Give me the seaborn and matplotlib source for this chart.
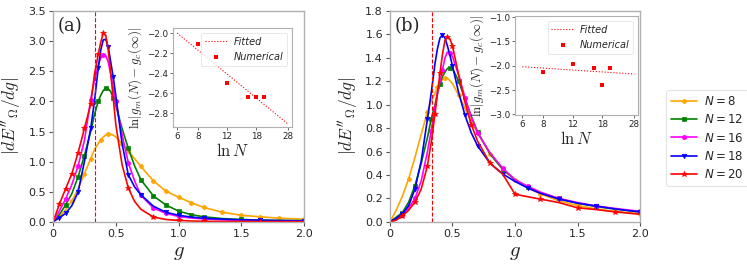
import numpy as np
import pandas as pd
import matplotlib
matplotlib.use("Agg")
import matplotlib.pyplot as plt
from matplotlib.font_manager import FontProperties
import seaborn as sns

sns.set_style("white")
plt.rcParams['font.family'] = ['DejaVu Sans']
plt.rcParams['mathtext.fontset'] = 'cm'

# ---------------- data ----------------
g = [0, 0.05, 0.1, 0.15, 0.2, 0.25, 0.3, 0.33, 0.36, 0.38, 0.4, 0.42, 0.44, 0.46,
     0.48, 0.5, 0.55, 0.6, 0.65, 0.7, 0.8, 0.9, 1.0, 1.1, 1.2, 1.35, 1.5, 1.65, 1.8, 2.0]

sizes = [8, 12, 16, 18, 20]

# panel (a)
a_N8 = [0, 0.08, 0.2, 0.35, 0.55, 0.8, 1.05, 1.2, 1.3, 1.36, 1.41, 1.44, 1.46, 1.455,
        1.44, 1.41, 1.3, 1.17, 1.05, 0.92, 0.68, 0.51, 0.41, 0.32, 0.24, 0.16, 0.11,
        0.085, 0.062, 0.045]
a_N12 = [0, 0.12, 0.28, 0.47, 0.75, 1.1, 1.5, 1.78, 2.0, 2.1, 2.18, 2.22, 2.21, 2.16,
         2.05, 1.93, 1.55, 1.22, 0.93, 0.7, 0.43, 0.28, 0.18, 0.12, 0.085, 0.055, 0.04,
         0.03, 0.025, 0.02]
a_N16 = [0, 0.18, 0.38, 0.62, 0.93, 1.35, 2.03, 2.35, 2.6, 2.72, 2.77, 2.76, 2.65, 2.45,
         2.22, 2.0, 1.45, 0.98, 0.68, 0.44, 0.23, 0.14, 0.09, 0.065, 0.05, 0.035, 0.025,
         0.02, 0.015, 0.012]
a_N18 = [0, 0.07, 0.14, 0.27, 0.5, 1.0, 1.55, 2.0, 2.55, 2.85, 3.02, 3.03, 2.9, 2.65,
         2.4, 2.1, 1.3, 0.78, 0.58, 0.45, 0.26, 0.16, 0.11, 0.08, 0.06, 0.045, 0.035,
         0.028, 0.022, 0.018]
a_N20 = [0, 0.29, 0.55, 0.8, 1.15, 1.55, 1.95, 2.45, 2.78, 2.98, 3.13, 3.1, 2.85, 2.45,
         2.05, 1.62, 0.95, 0.56, 0.34, 0.21, 0.08, 0.04, 0.025, 0.015, 0.01, 0.008,
         0.007, 0.006, 0.005, 0.005]

# panel (b)
b_N8 = [0, 0.1, 0.22, 0.37, 0.55, 0.75, 0.94, 1.03, 1.1, 1.15, 1.19, 1.215, 1.23, 1.225,
        1.205, 1.18, 1.08, 0.97, 0.86, 0.76, 0.58, 0.45, 0.36, 0.29, 0.24, 0.18, 0.14,
        0.11, 0.09, 0.07]
b_N12 = [0, 0.04, 0.08, 0.17, 0.31, 0.5, 0.72, 0.88, 1.0, 1.1, 1.18, 1.24, 1.28, 1.31,
         1.315, 1.31, 1.2, 1.05, 0.9, 0.77, 0.58, 0.45, 0.36, 0.3, 0.25, 0.2, 0.16,
         0.13, 0.11, 0.085]
b_N16 = [0, 0.02, 0.06, 0.12, 0.2, 0.35, 0.6, 0.78, 0.98, 1.1, 1.2, 1.3, 1.4, 1.45,
         1.44, 1.41, 1.25, 1.06, 0.9, 0.76, 0.59, 0.46, 0.36, 0.305, 0.255, 0.2, 0.165,
         0.135, 0.115, 0.09]
b_N18 = [0, 0.03, 0.07, 0.14, 0.28, 0.52, 0.88, 1.1, 1.35, 1.48, 1.57, 1.595, 1.57, 1.5,
         1.42, 1.33, 1.1, 0.91, 0.76, 0.65, 0.5, 0.41, 0.345, 0.29, 0.245, 0.195, 0.16,
         0.135, 0.11, 0.085]
b_N20 = [0, 0.015, 0.05, 0.1, 0.17, 0.28, 0.48, 0.68, 0.92, 1.1, 1.27, 1.43, 1.55, 1.58,
         1.56, 1.5, 1.25, 1.02, 0.83, 0.69, 0.5, 0.41, 0.236, 0.215, 0.195, 0.165, 0.12,
         0.105, 0.085, 0.065]

# insets: numerical points and fitted-line endpoints
inset_N = [8, 12, 16, 18, 20]
inset_a = [-2.11, -2.50, -2.64, -2.64, -2.64]
inset_b = [-2.12, -1.96, -2.04, -2.40, -2.04]
fit_N = [6, 28]
fit_a = [-2.0, -2.91]
fit_b = [-2.02, -2.17]

g_critical = 1 / 3

# ---------------- style ----------------
colors = ['orange', 'green', 'magenta', 'blue', 'red']
markers = ['P', 's', 'h', 'v', '*']
msizes = [3.2, 2.8, 3.4, 3.2, 4.0]
marks_a = [[1, 3, 5, 6, 9, 12, 16, 17, 19, 20, 21, 22, 23, 24, 25, 26, 27, 28, 29],
           [2, 4, 5, 8, 11, 14, 17, 19, 20, 21, 22, 23, 24, 26, 29],
           [2, 4, 6, 10, 15, 17, 19, 20, 21, 22, 24, 27, 29],
           [1, 2, 4, 6, 8, 12, 14, 17, 19, 21, 22, 24, 27, 29],
           [1, 2, 3, 4, 5, 6, 8, 10, 17, 20, 22, 24, 27, 29]]
marks_b = [[3, 6, 9, 12, 16, 18, 20, 22, 24, 26, 28, 29],
           [2, 4, 7, 10, 14, 16, 19, 21, 23, 25, 27, 29],
           [2, 4, 7, 11, 14, 17, 19, 21, 23, 25, 27, 29],
           [2, 4, 6, 11, 15, 17, 19, 21, 23, 25, 27, 29],
           [2, 4, 6, 8, 10, 13, 15, 18, 20, 22, 24, 26, 28]]

spine_col = '#b0b0b0'

fig = plt.figure(figsize=(7.47, 2.68), dpi=100)
axA = fig.add_axes([0.071, 0.172, 0.336, 0.787])
axB = fig.add_axes([0.522, 0.172, 0.335, 0.787])


def style_main(ax, ylim, yticks, label):
    ax.set_xlim(0, 2.0)
    ax.set_ylim(*ylim)
    ax.set_xticks([0, 0.5, 1.0, 1.5, 2.0])
    ax.set_xticklabels(['0', '0.5', '1.0', '1.5', '2.0'])
    ax.set_yticks(yticks)
    ax.set_yticklabels([f'{t:.1f}' for t in yticks])
    ax.tick_params(axis='both', direction='out', length=3, width=0.8,
                   color='#555555', labelsize=8, pad=2, bottom=True, left=True)
    for s in ax.spines.values():
        s.set_color(spine_col)
        s.set_linewidth(1.0)
    ax.set_xlabel(r'$g$', fontsize=15, labelpad=2)
    ax.set_ylabel(r"$|dE''_\Omega/dg|$", fontsize=12.5, labelpad=4)
    ax.text(0.02, 0.93, label, transform=ax.transAxes, fontsize=13,
            ha='left', va='center', family='DejaVu Serif')
    ax.axvline(g_critical, color='red', ls='--', lw=0.8)


def draw_curves(ax, series, marks):
    for i, (n, vals) in enumerate(zip(sizes, series)):
        df = pd.DataFrame({'g': g, 'v': vals})
        sns.lineplot(data=df, x='g', y='v', ax=ax, color=colors[i], lw=1.2,
                     marker=markers[i], markersize=msizes[i], markevery=marks[i],
                     markeredgewidth=0.5, markeredgecolor=colors[i],
                     label=f'$N = {n}$', legend=False, estimator=None)


draw_curves(axA, [a_N8, a_N12, a_N16, a_N18, a_N20], marks_a)
draw_curves(axB, [b_N8, b_N12, b_N16, b_N18, b_N20], marks_b)
style_main(axA, (0, 3.5), [0, 0.5, 1.0, 1.5, 2.0, 2.5, 3.0, 3.5], '(a)')
style_main(axB, (0, 1.8), [0, 0.2, 0.4, 0.6, 0.8, 1.0, 1.2, 1.4, 1.6, 1.8], '(b)')

# legend
handles, labels = axA.get_legend_handles_labels()
leg = fig.legend(handles, labels, loc='center left', bbox_to_anchor=(0.884, 0.485),
                 prop=FontProperties(size=8.5, math_fontfamily='dejavusans'),
                 frameon=True, handlelength=2.2, borderpad=0.4, labelspacing=0.45,
                 handletextpad=0.6)
leg.get_frame().set_edgecolor('#dddddd')
leg.get_frame().set_linewidth(0.8)


def inset(ax, rect, yvals, fit, ylim, yticks, xlim):
    ins = ax.inset_axes(rect)
    sns.lineplot(x=fit_N, y=fit, ax=ins, color='red', lw=0.8, ls=':',
                 label='Fitted', estimator=None)
    sns.scatterplot(x=inset_N, y=yvals, ax=ins, color='red', marker='s', s=7,
                    linewidth=0, label='Numerical')
    ins.set_xscale('log')
    ins.set_xlim(*xlim)
    ins.set_xticks([6, 8, 12, 18, 28])
    ins.set_xticklabels(['6', '8', '12', '18', '28'])
    ins.minorticks_off()
    ins.set_ylim(*ylim)
    ins.set_yticks(yticks)
    ins.set_yticklabels([f'{t:.1f}'.replace('-', '\u2212') for t in yticks])
    ins.tick_params(axis='both', direction='out', length=2, width=0.6,
                    color='#555555', labelsize=6.3, pad=1.5, bottom=True, left=True)
    for s in ins.spines.values():
        s.set_color(spine_col)
        s.set_linewidth(0.8)
    ins.set_xlabel(r'$\ln N$', fontsize=12, labelpad=1)
    ins.set_ylabel(r'$\ln|g_m(N)-g_c(\infty)|$', fontsize=9.3, labelpad=2)
    lg = ins.legend(loc='upper right', prop=FontProperties(size=7, style='italic'),
                    frameon=True, handlelength=2.3, borderpad=0.4, labelspacing=0.5,
                    handletextpad=0.6)
    lg.get_frame().set_edgecolor('#dddddd')
    lg.get_frame().set_linewidth(0.6)
    return ins


inset(axA, [0.478, 0.45, 0.474, 0.469], inset_a, fit_a, (-2.94, -1.95),
      [-2.8, -2.6, -2.4, -2.2, -2.0], (5.67, 29.6))
inset(axB, [0.5, 0.507, 0.492, 0.469], inset_b, fit_b, (-3.01, -0.98),
      [-3.0, -2.5, -2.0, -1.5, -1.0], (5.43, 29.5))

fig.savefig('out.png', dpi=100)
